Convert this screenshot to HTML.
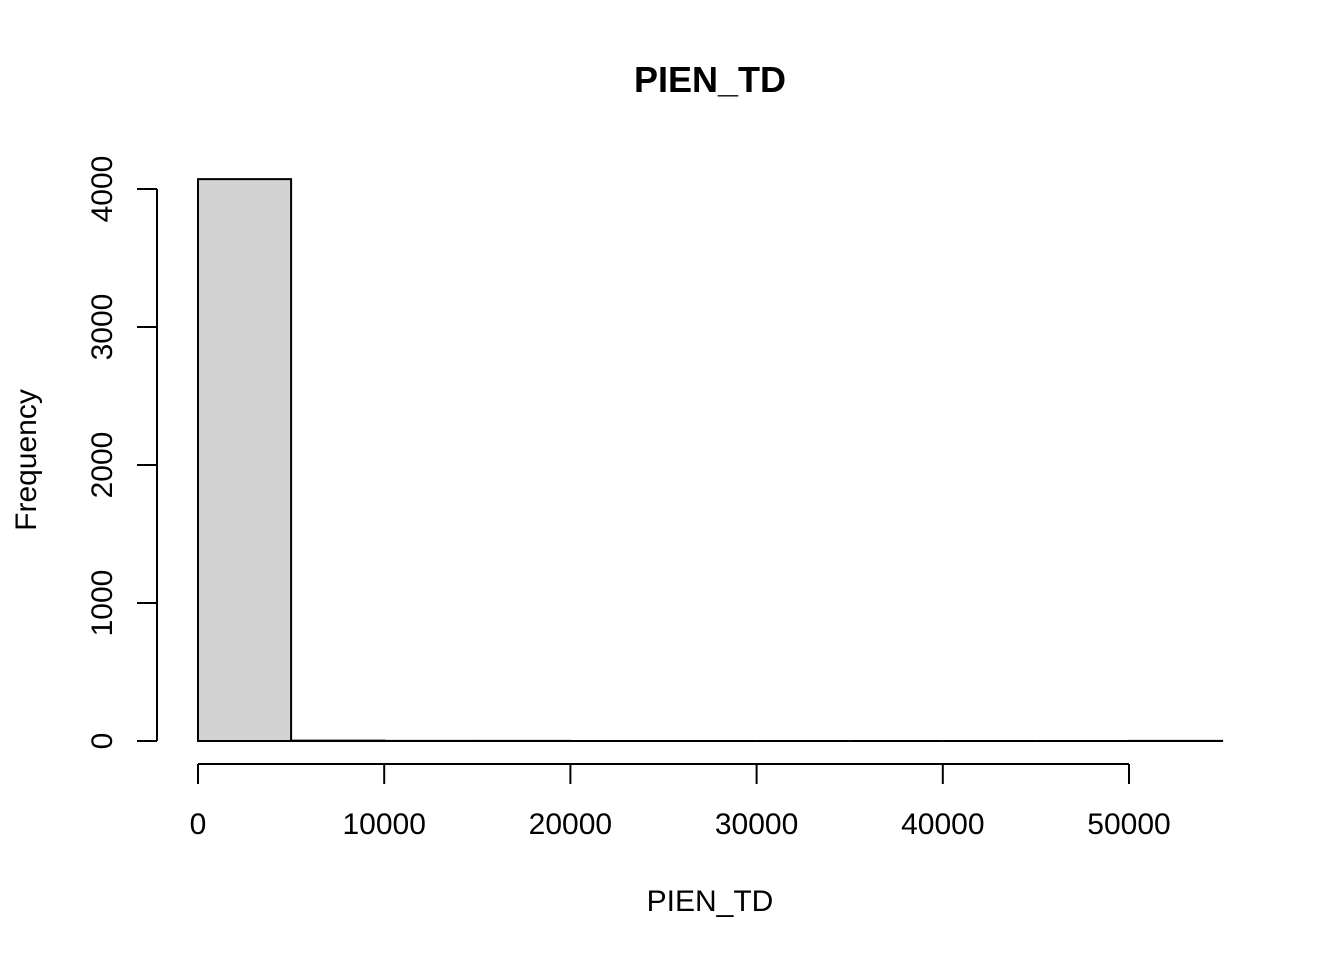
<!DOCTYPE html>
<html><head><meta charset="utf-8"><style>body{margin:0;background:#fff}svg{display:block}text{font-family:"Liberation Sans",Arial,sans-serif}</style></head>
<body>
<svg id="c" width="1344" height="960"></svg>
<script>
const binStarts=[0,5000,10000,15000,20000,25000,30000,35000,40000,45000,50000];
const counts=[4072,3,1,1,0,0,0,0,0,0,1];
const binWidth=5000;
const xTicks=[0,10000,20000,30000,40000,50000];
const yTicks=[0,1000,2000,3000,4000];
const NS="http://www.w3.org/2000/svg";
const svg=document.getElementById('c');
const X=v=>198+(v/50000)*931;
const Y=v=>741-v*0.138;
function mk(t,a,txt){const e=document.createElementNS(NS,t);for(const k in a)e.setAttribute(k,a[k]);if(txt!==undefined)e.textContent=txt;svg.appendChild(e);return e;}
binStarts.forEach((b,i)=>{
  const x0=X(b),x1=X(b+binWidth),y0=Y(0),y1=Y(counts[i]);
  const r=mk('path',{d:`M${x0},${y0}L${x0},${y1}L${x1},${y1}L${x1},${y0}Z`,fill:'#d3d3d3',stroke:'#000','stroke-width':2});
  
  
});
const xa=mk('line',{x1:X(xTicks[0]),x2:X(xTicks[xTicks.length-1]),y1:764,y2:764,stroke:'#000','stroke-width':2});


xTicks.forEach(t=>{
  mk('line',{x1:X(t),x2:X(t),y1:764,y2:784,stroke:'#000','stroke-width':2});
  const l=mk('text',{x:X(t),y:834,'text-anchor':'middle','font-size':30},String(t));
  
  
});
const ya=mk('line',{x1:157,x2:157,y1:Y(yTicks[0]),y2:Y(yTicks[yTicks.length-1]),stroke:'#000','stroke-width':2});


yTicks.forEach(t=>{
  mk('line',{x1:137,x2:157,y1:Y(t),y2:Y(t),stroke:'#000','stroke-width':2});
  const l=mk('text',{x:112,y:Y(t),'text-anchor':'middle','font-size':30,transform:`rotate(-90 112 ${Y(t)})`},String(t));
  
  
});
const ti=mk('text',{x:710,y:92,'text-anchor':'middle','font-size':36,'font-weight':'bold'},'PIEN_TD');


const xt=mk('text',{x:710,y:911,'text-anchor':'middle','font-size':30},'PIEN_TD');


const yt=mk('text',{x:36,y:460,'text-anchor':'middle','font-size':30,transform:'rotate(-90 36 460)'},'Frequency');


</script>
</body></html>
